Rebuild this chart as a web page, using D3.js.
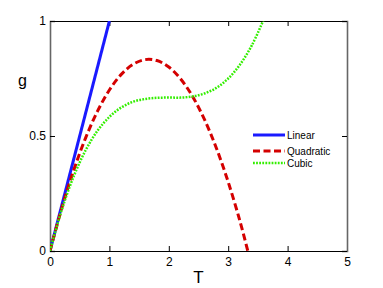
<!DOCTYPE html>
<html><head><meta charset="utf-8">
<script src="https://cdn.jsdelivr.net/npm/d3@7"></script>
<style>body{margin:0;background:#fff}svg{display:block}text{font-family:"Liberation Sans",Arial,sans-serif}</style>
</head><body>
<svg id="c" width="383" height="288"></svg>
<script>
const xTicks = [0, 1, 2, 3, 4, 5];
const yTicks = [0, 0.5, 1];
const yTickLabels = ["0", "0.5", "1"];
const linearT = [0, 1];
const linearG = [0, 1];
const quadT = [0, 0.2, 0.4, 0.6, 0.8, 1.0, 1.2, 1.4, 1.6, 1.8, 2.0, 2.2, 2.4, 2.6, 2.8, 3.0, 3.2, 3.33];
const quadG = [0, 0.188, 0.352, 0.492, 0.608, 0.7, 0.768, 0.812, 0.832, 0.828, 0.8, 0.748, 0.672, 0.572, 0.448, 0.3, 0.128, 0];
const cubicT = [0, 0.2, 0.4, 0.6, 0.8, 1.0, 1.2, 1.4, 1.6, 1.8, 2.0, 2.2, 2.4, 2.6, 2.8, 3.0, 3.2, 3.4, 3.6];
const cubicG = [0, 0.181, 0.325, 0.438, 0.523, 0.583, 0.624, 0.649, 0.661, 0.666, 0.667, 0.667, 0.672, 0.685, 0.709, 0.75, 0.811, 0.895, 1.008];
const seriesNames = ["Linear", "Quadratic", "Cubic"];

const svg = d3.select("#c");
const L = 50, R = 347, T = 21, B = 251;
const x = d3.scaleLinear().domain([0, 5]).range([L, R]);
const y = d3.scaleLinear().domain([0, 1]).range([B, T]);

svg.append("defs").append("clipPath").attr("id", "clip")
  .append("rect").attr("x", L).attr("y", T).attr("width", R - L).attr("height", B - T);

// axes
const fmt = (d) => yTickLabels[yTicks.indexOf(d)];
const gx = svg.append("g").attr("transform", `translate(0,${B})`)
  .call(d3.axisBottom(x).tickValues(xTicks).tickSize(-5).tickPadding(6).tickFormat(d3.format("d")));
svg.append("g").attr("transform", `translate(0,${T})`)
  .call(d3.axisTop(x).tickValues(xTicks).tickSize(-5).tickFormat(""));
const gyl = svg.append("g").attr("transform", `translate(${L},0)`)
  .call(d3.axisLeft(y).tickValues(yTicks).tickSize(-5).tickPadding(4).tickFormat(fmt));
const gyr = svg.append("g").attr("transform", `translate(${R},0)`)
  .call(d3.axisRight(y).tickValues(yTicks).tickSize(-5).tickFormat(""));
svg.selectAll(".domain").attr("stroke", "#000").attr("stroke-width", 1);
gyl.select(".domain").attr("stroke", "#666").attr("stroke-width", 1.6);
gyr.select(".domain").attr("stroke", "#666").attr("stroke-width", 1.6);
svg.selectAll(".tick line").attr("stroke", "#000");
svg.selectAll(".tick text").attr("font-size", 12).attr("fill", "#000")
  .attr("font-family", "'Liberation Sans',Arial,sans-serif");

// labels
svg.append("text").attr("x", (L + R) / 2).attr("y", 283).attr("text-anchor", "middle")
  .attr("font-size", 17).text("T");
svg.append("text").attr("x", 22.5).attr("y", 86).attr("text-anchor", "middle")
  .attr("font-size", 16).text("g");

const line = d3.line().x(d => x(d[0])).y(d => y(d[1])).curve(d3.curveCatmullRom);
const plot = svg.append("g").attr("clip-path", "url(#clip)");
const styles = [
  {c: "#1a1aff", w: 3, dash: null},
  {c: "#d40000", w: 3, dash: "7,3.5"},
  {c: "#33ee00", w: 2.5, dash: "1.8,1.3"}
];
const data = [
  d3.zip(linearT, linearG),
  d3.zip(quadT, quadG),
  d3.zip(cubicT, cubicG)
];
data.forEach((d, i) => {
  plot.append("path").datum(d).attr("d", line).attr("fill", "none")
    .attr("stroke", styles[i].c).attr("stroke-width", styles[i].w)
    .attr("stroke-dasharray", styles[i].dash);
});

// legend
const ly = [135, 151, 163];
seriesNames.forEach((n, i) => {
  svg.append("line").attr("x1", 253).attr("x2", 285).attr("y1", ly[i]).attr("y2", ly[i])
    .attr("stroke", styles[i].c).attr("stroke-width", styles[i].w)
    .attr("stroke-dasharray", styles[i].dash);
  svg.append("text").attr("x", 287).attr("y", ly[i]).attr("dy", "0.35em")
    .attr("font-size", 10).text(n);
});
</script>
</body></html>
